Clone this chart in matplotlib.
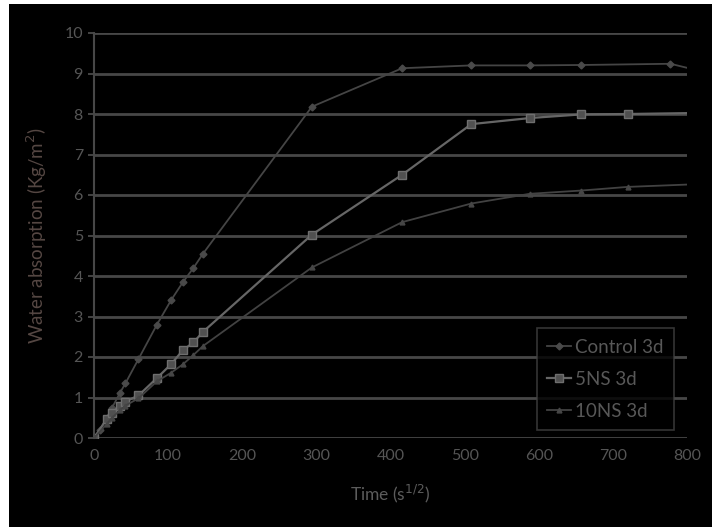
import matplotlib
matplotlib.use("Agg")
import matplotlib.pyplot as plt
from matplotlib.patches import Rectangle

# sorptivity test readings: time as sqrt(seconds), absorption in kg/m2
t_control = [0, 7.7, 17.3, 24.5, 34.6, 42.4, 60, 84.9, 103.9, 120, 134.2, 147,
             293.9, 415.7, 509.1, 587.9, 657.3, 777.7, 831.4]
w_control = [0, 0.2, 0.5, 0.75, 1.1, 1.35, 1.95, 2.8, 3.4, 3.85, 4.2, 4.55,
             8.18, 9.13, 9.2, 9.2, 9.21, 9.24, 9.0]

t_5ns = [0, 17.3, 24.5, 34.6, 42.4, 60, 84.9, 103.9, 120, 134.2, 147,
         293.9, 415.7, 509.1, 587.9, 657.3, 720, 831.4]
w_5ns = [0, 0.47, 0.62, 0.8, 0.9, 1.05, 1.48, 1.82, 2.17, 2.36, 2.62,
         5.02, 6.5, 7.75, 7.9, 7.99, 8.0, 8.03]

t_10ns = [0, 17.3, 24.5, 34.6, 42.4, 60, 84.9, 103.9, 120, 134.2, 147,
          293.9, 415.7, 509.1, 587.9, 657.3, 720, 831.4]
w_10ns = [0, 0.35, 0.5, 0.68, 0.8, 0.98, 1.4, 1.61, 1.82, 2.05, 2.27,
          4.21, 5.33, 5.79, 6.03, 6.11, 6.2, 6.28]

x_ticks = [0, 100, 200, 300, 400, 500, 600, 700, 800]
y_ticks = [0, 1, 2, 3, 4, 5, 6, 7, 8, 9, 10]

plt.rcParams["font.family"] = ["Lato", "DejaVu Sans"]

fig = plt.figure(figsize=(7.12, 5.27), dpi=100, facecolor="black")
# thin white margin along the top and left edges
fig.patches.append(Rectangle((0, 1 - 4 / 527), 1, 4 / 527, transform=fig.transFigure,
                             facecolor="white", edgecolor="none", zorder=0))
fig.patches.append(Rectangle((0, 0), 9 / 712, 1, transform=fig.transFigure,
                             facecolor="white", edgecolor="none", zorder=0))

ax = fig.add_axes([94 / 712, 1 - 438 / 527, 593 / 712, 405 / 527])
ax.set_facecolor("black")

grid_c = "#474747"
ax.set_xlim(0, 800)
ax.set_ylim(0, 10)
ax.set_xticks(x_ticks)
ax.set_yticks(y_ticks)
ax.yaxis.grid(True, color=grid_c, linewidth=2)
ax.set_axisbelow(True)
for s in ["top", "right", "bottom"]:
    ax.spines[s].set_visible(False)
ax.spines["left"].set_color(grid_c)
ax.spines["left"].set_linewidth(1.5)
ax.tick_params(axis="y", colors="#505050", length=4, width=1.2, labelsize=11.5, pad=4)
ax.tick_params(axis="x", colors="#505050", length=0, labelsize=11.5, pad=8)
for lab in ax.get_xticklabels() + ax.get_yticklabels():
    lab.set_color("#555555")

ax.plot(t_control, w_control, color="#454545", linewidth=1.3, marker="D",
        markersize=3.5, markerfacecolor="#4a4a4a", markeredgecolor="#4a4a4a",
        label="Control 3d")
ax.plot(t_5ns, w_5ns, color="#666666", linewidth=1.6, marker="s",
        markersize=6, markerfacecolor="#505050", markeredgecolor="#6e6e6e",
        label="5NS 3d")
ax.plot(t_10ns, w_10ns, color="#424242", linewidth=1.3, marker="^",
        markersize=3.5, markerfacecolor="#464646", markeredgecolor="#464646",
        label="10NS 3d")

leg = ax.legend(loc="lower right", bbox_to_anchor=(0.978, 0.02), borderaxespad=0,
                frameon=True, fontsize=13.5, labelspacing=0.8, handlelength=1.3,
                handletextpad=0.2, borderpad=0.55, fancybox=False)
leg.get_frame().set_facecolor("black")
leg.get_frame().set_edgecolor("#424242")
leg.get_frame().set_linewidth(1.2)
for txt in leg.get_texts():
    txt.set_color("#585858")

ax.set_xlabel("Time (s$^{1/2}$)", color="#5c5c5c", fontsize=12.5, labelpad=14)
ax.set_ylabel("Water absorption (Kg/m$^2$)", color="#554743", fontsize=13.5, labelpad=11)

fig.savefig("out.png", dpi=100, facecolor=fig.get_facecolor())
